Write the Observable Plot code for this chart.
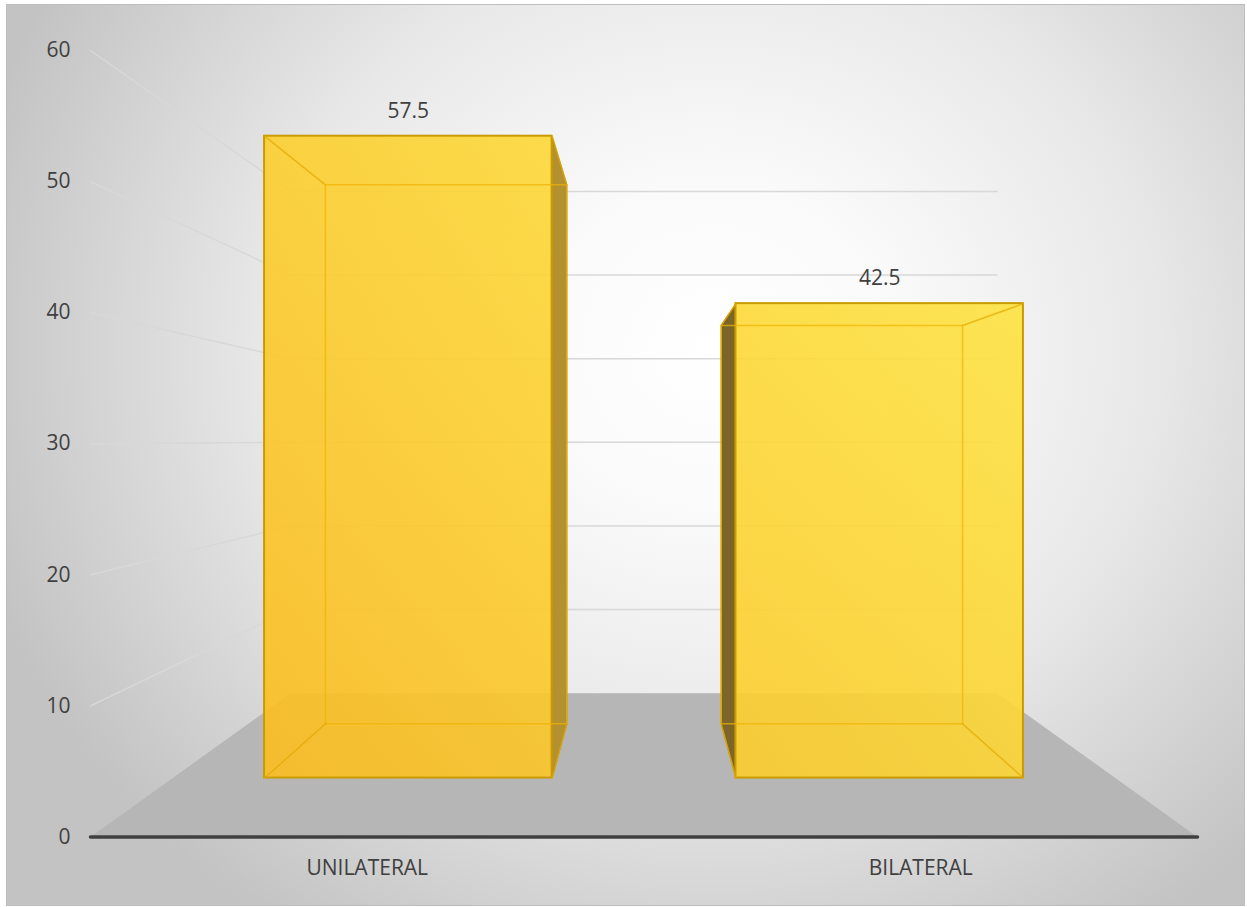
<!DOCTYPE html>
<html><head><meta charset="utf-8">
<script src="https://cdn.jsdelivr.net/npm/d3@7"></script>
<script src="https://cdn.jsdelivr.net/npm/@observablehq/plot@0.6"></script>
<style>
html,body{margin:0;padding:0;background:#ffffff;}
#wrap{position:relative;width:1247px;height:907px;overflow:hidden;}
#bg{position:absolute;left:6px;top:4px;width:1237px;height:900px;border:1px solid #bdbdbd;
  background:radial-gradient(ellipse 62% 78% at 57% 38%, #ffffff 0%, #fafafa 24%, #e8e8e8 58%, #c3c3c3 100%);}
#wrap svg{position:absolute;left:0;top:0;}
</style></head>
<body><div id="wrap"><div id="bg"></div></div>
<script>
// ---- data ----
const categories = ["UNILATERAL", "BILATERAL"];
const values = [57.5, 42.5];
const yTicks = [0, 10, 20, 30, 40, 50, 60];

// ---- 3D view (perspective in data units) ----
const VP = {u: 0.5, v: 30.3};   // vanishing point
const K_BACK = 0.638;           // shrink factor at the back wall
const T_FRONT = 0.41, T_BACK = 0.787; // bar depth (0 = front edge, 1 = back wall)
const BAR_FRAC = 0.61;          // bar width / category band
function P(u, v, t) {
  const k = 1 - (1 - K_BACK) * t;
  return {x: VP.u + (u - VP.u) * k, y: VP.v + (v - VP.v) * k};
}
const n = categories.length;
const bars = categories.map((c, i) => {
  const cu = (i + 0.5) / n, h = BAR_FRAC / n / 2;
  return {category: c, value: values[i], i, cu, u0: cu - h, u1: cu + h};
});

// walls / floor
const floor = [P(0,0,0), P(1,0,0), P(1,0,1), P(0,0,1)];
const backGrid = yTicks.filter(v => v > 0).flatMap(v => [P(0,v,1), P(1,v,1)].map(p => ({...p, id: v})));
const sideGrid = yTicks.filter(v => v > 0).flatMap(v => [P(0,v,0), P(0,v,1)].map(p => ({...p, id: v})));
const axisLine = [P(0,0,0), P(1,0,0)];

// bar pieces
const fronts = bars.map(b => {
  const a = P(b.u0, 0, T_FRONT), c = P(b.u1, b.value, T_FRONT);
  return {...b, x1: a.x, x2: c.x, y1: a.y, y2: c.y};
});
const sides = bars.flatMap(b => {
  const us = b.cu < VP.u ? b.u1 : b.u0;
  const col = b.cu < VP.u ? "#b49030" : "#7d652a";
  return [P(us,0,T_FRONT), P(us,b.value,T_FRONT), P(us,b.value,T_BACK), P(us,0,T_BACK)]
    .map(p => ({...p, id: b.i, col}));
});
const backEdges = bars.flatMap(b =>
  [P(b.u0,0,T_BACK), P(b.u1,0,T_BACK), P(b.u1,b.value,T_BACK), P(b.u0,b.value,T_BACK)]
    .map(p => ({...p, id: b.i})));
const connectors = bars.flatMap(b =>
  [[b.u0,0],[b.u1,0],[b.u1,b.value],[b.u0,b.value]].flatMap(([u,v], j) =>
    [P(u,v,T_FRONT), P(u,v,T_BACK)].map(p => ({...p, id: b.i * 10 + j}))));
const valueLabels = bars.map(b => ({...P(b.cu, b.value, T_FRONT), text: String(b.value)}));
const catLabels = bars.map(b => ({...P(b.cu, 0, 0), text: b.category}));

const plot = Plot.plot({
  width: 1247, height: 907,
  marginLeft: 90, marginRight: 50, marginTop: 50, marginBottom: 70.5,
  x: {domain: [0, 1], axis: null},
  y: {domain: [0, 60], ticks: yTicks, tickSize: 0, tickPadding: 20, label: null},
  color: {type: "identity"},
  style: {background: "transparent", fontFamily: "'Open Sans', sans-serif", fontSize: "21px", color: "#404040", overflow: "visible"},
  marks: [
    Plot.line(sideGrid, {x: "x", y: "y", z: "id", stroke: "#d8d8d8", strokeWidth: 1.5}),
    Plot.line(backGrid, {x: "x", y: "y", z: "id", stroke: "#d8d8d8", strokeWidth: 1.5}),
    Plot.line(floor, {x: "x", y: "y", fill: "#b6b6b6", stroke: "none", curve: "linear-closed"}),
    Plot.line(axisLine, {x: "x", y: "y", stroke: "#404040", strokeWidth: 3.5, strokeLinecap: "round"}),
    Plot.line(sides, {x: "x", y: "y", z: "id", fill: "col", stroke: "#b8920a", strokeWidth: 1.2, curve: "linear-closed", strokeLinejoin: "miter"}),
    Plot.rect(fronts, {x1: "x1", x2: "x2", y1: "y1", y2: "y2", fill: "url(#barGrad)", fillOpacity: 0.9, stroke: "#c99b00", strokeWidth: 2}),
    Plot.line(backEdges, {x: "x", y: "y", z: "id", stroke: "#efb300", strokeOpacity: 0.7, strokeWidth: 1.5, curve: "linear-closed"}),
    Plot.line(connectors, {x: "x", y: "y", z: "id", stroke: "#e3a800", strokeOpacity: 0.7, strokeWidth: 1.5}),
    Plot.text(valueLabels, {x: "x", y: "y", text: "text", dy: -25, fontSize: 21, fill: "#404040"}),
    Plot.text(catLabels, {x: "x", y: "y", text: "text", dy: 31, fontSize: 21, fill: "#404040"})
  ]
});

d3.select(plot).insert("defs", ":first-child").html(
  `<linearGradient id="barGrad" gradientUnits="userSpaceOnUse" x1="265" y1="777" x2="1022" y2="133">
     <stop offset="0" stop-color="#fbbd20"/>
     <stop offset="0.5" stop-color="#fcd232"/>
     <stop offset="1" stop-color="#fee745"/>
   </linearGradient>`);
document.getElementById("wrap").appendChild(plot);
</script>
</body></html>
